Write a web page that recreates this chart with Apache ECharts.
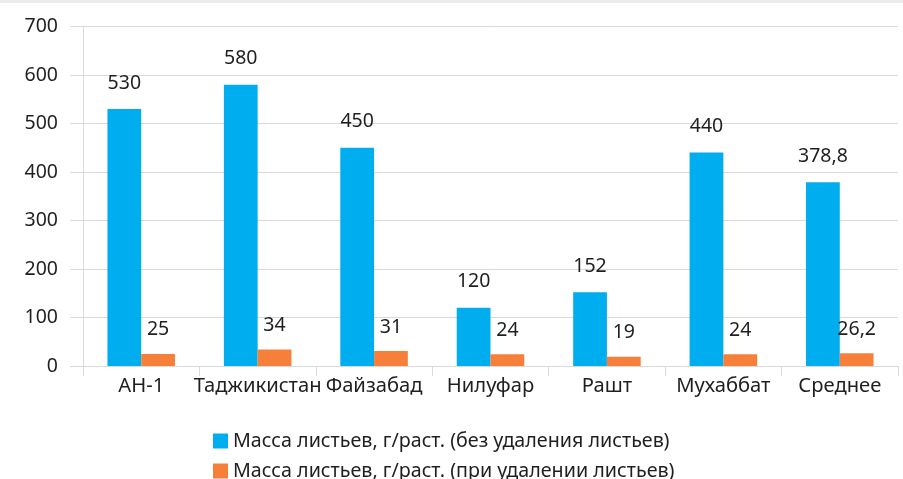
<!DOCTYPE html>
<html><head><meta charset="utf-8">
<script src="https://cdn.jsdelivr.net/npm/echarts@6/dist/echarts.min.js"></script>
<style>html,body{margin:0;padding:0;background:#fff}#c{width:903px;height:479px}</style>
</head><body><div id="c"></div>
<script>
const categories = ['АН-1','Таджикистан','Файзабад','Нилуфар','Рашт','Мухаббат','Среднее'];
const seriesNames = ['Масса листьев, г/раст. (без удаления листьев)','Масса листьев, г/раст. (при удалении листьев)'];
const withoutRemoval = [530, 580, 450, 120, 152, 440, 378.8];
const withRemoval = [25, 34, 31, 24, 19, 24, 26.2];
const yTicks = [0,100,200,300,400,500,600,700];

const font = '"Noto Sans", sans-serif';
const txt = '#1f1f1f';
const fmt = p => String(p.value).replace('.', ',');
const chart = echarts.init(document.getElementById('c'));
chart.setOption({
  animation:false,
  textStyle:{fontFamily:font},
  graphic:[{type:'rect',left:0,top:0,shape:{width:903,height:3},style:{fill:'#ebebeb'}}],
  grid:{left:83,right:5,top:26.5,bottom:113,containLabel:false},
  legend:{orient:'vertical',left:208,top:426,height:60,itemWidth:15,itemHeight:15,itemGap:10,
    icon:'rect',textStyle:{fontSize:19.7,lineHeight:20,color:txt,fontFamily:font},data:seriesNames},
  xAxis:{type:'category',data:categories,
    axisLine:{show:true,lineStyle:{color:'#d9d9d9',width:1}},
    axisTick:{show:true,length:10,lineStyle:{color:'#d9d9d9'}},
    axisLabel:{fontSize:20.2,color:txt,margin:10,fontFamily:font,interval:0}},
  yAxis:{type:'value',min:yTicks[0],max:yTicks[yTicks.length-1],interval:100,
    axisLine:{show:true,lineStyle:{color:'#d9d9d9'}},
    axisTick:{show:true,length:13,lineStyle:{color:'#d9d9d9'}},
    splitLine:{lineStyle:{color:'#d9d9d9',width:1}},
    axisLabel:{fontSize:19.5,color:txt,margin:25,fontFamily:font}},
  series:[
    {name:seriesNames[0],type:'bar',data:withoutRemoval,barGap:'0%',barCategoryGap:'42%',
     itemStyle:{color:'#00aeef'},
     label:{show:true,position:'top',distance:16,fontSize:19.5,color:txt,fontFamily:font,formatter:fmt}},
    {name:seriesNames[1],type:'bar',data:withRemoval,barGap:'0%',barCategoryGap:'42%',
     itemStyle:{color:'#f6803a'},
     label:{show:true,position:'top',distance:14,fontSize:19.5,color:txt,fontFamily:font,formatter:fmt}}
  ]
});
</script></body></html>
